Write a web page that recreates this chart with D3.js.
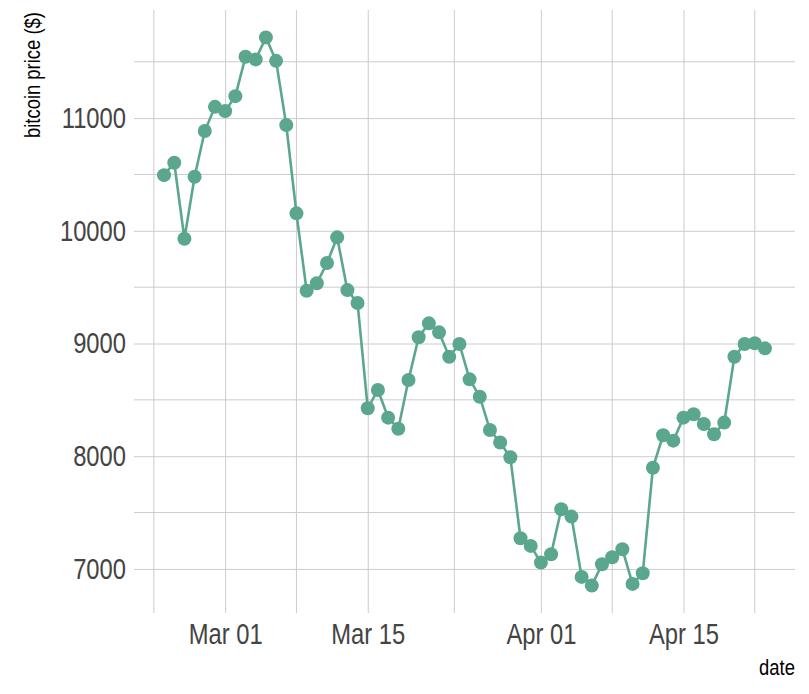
<!DOCTYPE html>
<html>
<head>
<meta charset="utf-8">
<script src="https://cdn.jsdelivr.net/npm/d3@7"></script>
<style>
  html, body { margin: 0; padding: 0; background: #fff; }
  svg text { font-family: "Liberation Sans Narrow", "Arial Narrow", "Liberation Sans", sans-serif; }
</style>
</head>
<body>
<svg id="chart" width="809" height="694"></svg>
<script>
// daily bitcoin price, 2018-02-23 .. 2018-04-23
startDate = "2018-02-23";
prices = [10494, 10604, 9930, 10479, 10885, 11100, 11062, 11195, 11544, 11521,
          11716, 11508, 10938, 10155, 9468, 9534, 9714, 9942, 9474, 9359,
          8425, 8588, 8342, 8244, 8676, 9055, 9179, 9099, 8883, 8996,
          8682, 8528, 8233, 8122, 7991, 7272, 7204, 7056, 7130, 7529,
          7464, 6929, 6852, 7042, 7104, 7175, 6867, 6962, 7898, 8186,
          8138, 8342, 8372, 8286, 8195, 8298, 8883, 8996, 9002, 8957];
yTicks = [7000, 8000, 9000, 10000, 11000];
xTicks = ["2018-03-01", "2018-03-15", "2018-04-01", "2018-04-15"];
xMinor = ["2018-02-22", "2018-03-08", "2018-03-23T12:00", "2018-04-08", "2018-04-22"];

const parse = s => new Date(s.length > 10 ? s : s + "T00:00");
const t0 = parse(startDate);
const data = prices.map((v, i) => ({date: d3.timeDay.offset(t0, i), value: v}));

const margin = {left: 134, right: 14, top: 10, bottom: 81};
const W = 809, H = 694;
const svg = d3.select("#chart");
const narrow = 0.82; // no Arial Narrow installed: squeeze Liberation Sans instead

// ggplot style 5% expansion
const xExt = d3.extent(data, d => d.date);
const xPad = (xExt[1] - xExt[0]) * 0.05;
const x = d3.scaleTime()
  .domain([new Date(+xExt[0] - xPad), new Date(+xExt[1] + xPad)])
  .range([margin.left, W - margin.right]);

const yExt = d3.extent(data, d => d.value);
const yPad = (yExt[1] - yExt[0]) * 0.05;
const y = d3.scaleLinear()
  .domain([yExt[0] - yPad, yExt[1] + yPad])
  .range([H - margin.bottom, margin.top]);

const grid = svg.append("g").attr("stroke", "#cccccc").attr("stroke-width", 1);
const yMinor = yTicks.map(v => v + 500).concat([6500]).filter(v => v > y.domain()[0] && v < y.domain()[1]);
grid.selectAll(".ym").data(yMinor).enter().append("line")
  .attr("x1", margin.left).attr("x2", W - margin.right)
  .attr("y1", d => y(d)).attr("y2", d => y(d));
grid.selectAll(".xm").data(xMinor.map(parse)).enter().append("line")
  .attr("y1", margin.top).attr("y2", H - margin.bottom)
  .attr("x1", d => x(d)).attr("x2", d => x(d));

// major axes: ticks drawn as full-width grid lines
svg.append("g")
  .attr("transform", `translate(${margin.left},0)`)
  .call(d3.axisLeft(y).tickValues(yTicks).tickSize(-(W - margin.left - margin.right)).tickFormat(d3.format("d")))
  .call(g => g.select(".domain").remove())
  .call(g => g.selectAll(".tick line").attr("stroke", "#cccccc"))
  .call(g => g.selectAll(".tick text").attr("fill", "#444").attr("font-size", 29)
    .attr("x", -8 / narrow).attr("transform", `scale(${narrow},1)`));

svg.append("g")
  .attr("transform", `translate(0,${H - margin.bottom})`)
  .call(d3.axisBottom(x).tickValues(xTicks.map(parse)).tickSize(0).tickFormat(d3.timeFormat("%b %d")))
  .call(g => g.select(".domain").remove())
  .call(g => g.selectAll(".tick line").attr("stroke", "#cccccc").attr("y1", 0).attr("y2", -(H - margin.bottom - margin.top)))
  .call(g => g.selectAll(".tick text").attr("fill", "#444").attr("font-size", 29).attr("y", 10).attr("dy", "0.71em")
    .attr("transform", `scale(${narrow},1)`));

const green = "#5aa78e";
const line = d3.line().x(d => x(d.date)).y(d => y(d.value));
svg.append("path").datum(data)
  .attr("fill", "none").attr("stroke", green).attr("stroke-width", 2.6)
  .attr("d", line);

svg.append("g").selectAll("circle").data(data).enter().append("circle")
  .attr("cx", d => x(d.date)).attr("cy", d => y(d.value))
  .attr("r", 7).attr("fill", green);

svg.append("text")
  .attr("transform", `translate(40,12) rotate(-90) scale(${narrow},1)`)
  .attr("text-anchor", "end").attr("font-size", 22.5).attr("fill", "#000")
  .text("bitcoin price ($)");

svg.append("text")
  .attr("transform", `translate(${W - 14},675) scale(${narrow},1)`)
  .attr("text-anchor", "end").attr("font-size", 22.5).attr("fill", "#000")
  .text("date");
</script>
</body>
</html>
